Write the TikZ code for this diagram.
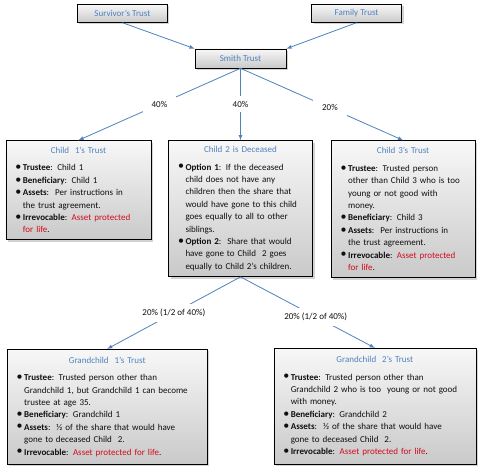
\documentclass[tikz,border=0pt]{standalone}
\usepackage{fontspec}
\setmainfont{Carlito}
\usetikzlibrary{shapes,arrows}
\usetikzlibrary{positioning,shadows}

\definecolor{titleblue}{RGB}{79,129,189}
\definecolor{linkblue}{RGB}{79,129,189}
\definecolor{bodydark}{RGB}{15,15,15}
\definecolor{warnred}{RGB}{210,10,30}

\newcommand{\boxtitle}[1]{{\centering\textcolor{titleblue}{#1}\par}\vspace{5pt}}
\newenvironment{trustlist}{\begin{list}{\raisebox{0.3pt}{\large\textbullet}}{%
    \setlength{\leftmargin}{9pt}\setlength{\labelwidth}{7.5pt}\setlength{\labelsep}{0pt}%
    \setlength{\itemsep}{0pt}\setlength{\parsep}{0pt}\setlength{\topsep}{0pt}%
    \setlength{\partopsep}{0pt}\def\makelabel##1{##1\hfil}}\raggedright}{\end{list}}
\newcommand{\keep}[1]{\textcolor{warnred}{#1}}

\begin{document}
\begin{tikzpicture}[x=1pt, y=1pt,
        trustbox/.style={draw=black, line width=0.6pt, top color=gray!6, bottom color=gray!42,
            drop shadow={shadow xshift=2pt, shadow yshift=-2pt, opacity=0.35},
            align=left, inner xsep=8pt, inner ysep=3pt, text=bodydark,
            font=\fontsize{9}{12.4}\selectfont},
        topbox/.style={trustbox, align=center, text=titleblue},
        link/.style={draw=linkblue, line width=0.8pt, -latex},
        pct/.style={fill=white, inner xsep=9pt, inner ysep=5pt, text=bodydark,
            font=\fontsize{9}{11}\selectfont}]
    \useasboundingbox (0,0) rectangle (478,-468);

    \node[topbox, minimum width=91pt, minimum height=19pt] (smith) at (240.5,-58.5) {Smith Trust};
    \node[topbox, minimum width=90pt, minimum height=18pt,
          above left=26pt and 27pt of smith.north west] (surv) {Survivor’s Trust};
    \node[topbox, minimum width=90pt, minimum height=18pt,
          above right=26pt and 25pt of smith.north east] (family) {Family Trust};

    \node[trustbox, text width=128pt, minimum height=136pt, below=72pt of smith] (child2) {%
        \boxtitle{Child 2 is Deceased}
        \begin{trustlist}
            \item \textbf{Option 1}: If the deceased\\ child does not have any\\ children then the share that\\
                would have gone to this child\\ goes equally to all to other\\ siblings.
            \item \textbf{Option 2}:\ \ Share that would\\ have gone to Child\ \ 2 goes\\ equally to Child 2’s children.
        \end{trustlist}};

    \node[trustbox, text width=129pt, minimum height=99pt,
          left=17pt of child2.north west, anchor=north east] (child1) {%
        \boxtitle{Child\ \ 1’s Trust}
        \begin{trustlist}
            \item \textbf{Trustee}: Child 1
            \item \textbf{Beneficiary}: Child 1
            \item \textbf{Assets}:\ \ Per instructions in\\ the trust agreement.
            \item \textbf{Irrevocable}: \keep{Asset protected\\ for life}.
        \end{trustlist}};

    \node[trustbox, text width=128pt, minimum height=137pt,
          right=18pt of child2.north east, anchor=north west] (child3) {%
        \boxtitle{Child 3’s Trust}
        \begin{trustlist}
            \item \textbf{Trustee}: Trusted person\\ other than Child 3 who is too\\ young or not good with\\ money.
            \item \textbf{Beneficiary}: Child 3
            \item \textbf{Assets}:\ \ Per instructions in\\ the trust agreement.
            \item \textbf{Irrevocable}: \keep{Asset protected\\ for life}.
        \end{trustlist}};

    \node[trustbox, text width=184pt, minimum height=115pt,
          below left=72pt and 33pt of child2.south] (grand1) {%
        \boxtitle{Grandchild\ \ 1’s Trust}
        \begin{trustlist}
            \item \textbf{Trustee}: Trusted person other than\\ Grandchild 1, but Grandchild 1 can become\\ trustee at age 35.
            \item \textbf{Beneficiary}: Grandchild 1
            \item \textbf{Assets}:\ \ ½ of the share that would have\\ gone to deceased Child\ \ 2.
            \item \textbf{Irrevocable}: \keep{Asset protected for life}.
        \end{trustlist}};

    \node[trustbox, text width=186pt, minimum height=116pt,
          below right=71pt and 33pt of child2.south] (grand2) {%
        \boxtitle{Grandchild\ \ 2’s Trust}
        \begin{trustlist}
            \item \textbf{Trustee}: Trusted person other than\\ Grandchild 2 who is too\ \ young or not good\\ with money.
            \item \textbf{Beneficiary}: Grandchild 2
            \item \textbf{Assets}:\ \ ½ of the share that would have\\ gone to deceased Child\ \ 2.
            \item \textbf{Irrevocable}: \keep{Asset protected for life}.
        \end{trustlist}};

    % feeding trusts
    \draw[link] (surv.south) -- (smith.north west);
    \draw[link] (family.south) -- (smith.north east);

    % shares of the children
    \draw[link] (smith.south) -- node[pct] {40\%} (child1.north);
    \draw[link] (smith.south) -- node[pct] {40\%} (child2.north);
    \draw[link] (smith.south) -- node[pct, pos=0.55] {20\%} (child3.north);

    % shares of the grandchildren
    \draw[link] (child2.south) -- node[pct] {20\% (1/2 of 40\%)} (grand1.north);
    \draw[link] (child2.south) -- node[pct, pos=0.56] {20\% (1/2 of 40\%)} (grand2.north);
\end{tikzpicture}
\end{document}
